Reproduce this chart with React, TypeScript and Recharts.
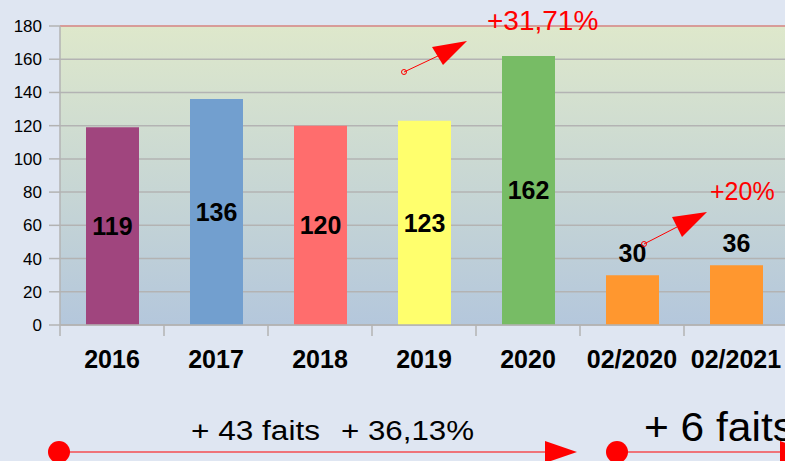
import { Bar, BarChart, CartesianGrid, Cell, LabelList, ReferenceLine, XAxis, YAxis } from "recharts"

const categories = ["2016", "2017", "2018", "2019", "2020", "02/2020", "02/2021"]
const faits = [119, 136, 120, 123, 162, 30, 36]
const barColors = ["#a0457e", "#729fcf", "#ff6d6d", "#ffff6d", "#77bc65", "#ff972f", "#ff972f"]
const yTicks = [0, 20, 40, 60, 80, 100, 120, 140, 160, 180]

const data = categories.map((name, i) => ({ name, value: faits[i] }))

const FONT = "'Liberation Sans', Arial, sans-serif"
const W = 800
const H = 461
const PLOT_LEFT = 60
const PLOT_RIGHT = 788
const BAND = (PLOT_RIGHT - PLOT_LEFT) / categories.length

function XTick(props: any) {
  const { x, y, payload } = props
  const left = x - BAND / 2
  return (
    <g>
      <line x1={left} x2={left} y1={y - 8} y2={y + 3} stroke="#b3b3b3" strokeWidth={1.5} />
      <text
        x={x}
        y={y + 26}
        textAnchor="middle"
        dominantBaseline="central"
        fontFamily={FONT}
        fontWeight="bold"
        fontSize={25}
        fill="#000"
      >
        {payload.value}
      </text>
    </g>
  )
}

function ValueLabel(props: any) {
  const { x, y, width, height, value } = props
  const inside = height > 80
  const cy = inside ? y + height / 2 : y - 22
  return (
    <text
      x={x + width / 2}
      y={cy}
      textAnchor="middle"
      dominantBaseline="central"
      fontFamily={FONT}
      fontWeight="bold"
      fontSize={25}
      fill="#000"
    >
      {value}
    </text>
  )
}

function Overlay() {
  const red = "#ff0000"
  return (
    <svg width={785} height={461} style={{ position: "absolute", left: 0, top: 0, pointerEvents: "none" }}>
      <defs>
        <linearGradient id="plotBg" x1="0" y1="0" x2="0" y2="1">
          <stop offset="0%" stopColor="#dee8cb" />
          <stop offset="100%" stopColor="#b4c7dc" />
        </linearGradient>
      </defs>
      {/* +31,71% arrow */}
      <line x1={404} y1={72} x2={440} y2={55} stroke={red} strokeWidth={1} />
      <circle cx={404} cy={72} r={2.5} fill="none" stroke={red} strokeWidth={1} />
      <polygon points="467,41 432,47 443,65" fill={red} />
      <text x={487} y={20} dominantBaseline="central" fontFamily={FONT} fontSize={28} fill={red}>
        +31,71%
      </text>
      {/* +20% arrow */}
      <line x1={644} y1={244} x2={677} y2={227} stroke={red} strokeWidth={1} />
      <circle cx={644} cy={244} r={2.5} fill="none" stroke={red} strokeWidth={1} />
      <polygon points="707,212 672,217 682,237" fill={red} />
      <text x={710} y={191} dominantBaseline="central" fontFamily={FONT} fontSize={25} fill={red}>
        +20%
      </text>
      {/* bottom arrows */}
      <line x1={59} y1={452} x2={548} y2={452} stroke={red} strokeWidth={1.2} />
      <circle cx={59} cy={452} r={11} fill={red} />
      <polygon points="577,452 545,441 545,463" fill={red} />
      <line x1={617} y1={452} x2={785} y2={452} stroke={red} strokeWidth={1.2} />
      <circle cx={617} cy={452} r={11} fill={red} />
      <polygon points="812,452 780,441 780,463" fill={red} />
      <text
        x={191}
        y={431}
        dominantBaseline="central"
        fontFamily={FONT}
        fontSize={27}
        textLength={129}
        lengthAdjust="spacingAndGlyphs"
        fill="#000"
      >
        + 43 faits
      </text>
      <text
        x={341}
        y={431}
        dominantBaseline="central"
        fontFamily={FONT}
        fontSize={27}
        textLength={133}
        lengthAdjust="spacingAndGlyphs"
        fill="#000"
      >
        + 36,13%
      </text>
      <text
        x={644}
        y={427}
        dominantBaseline="central"
        fontFamily={FONT}
        fontSize={40}
        textLength={150}
        lengthAdjust="spacingAndGlyphs"
        fill="#000"
      >
        + 6 faits
      </text>
    </svg>
  )
}

export default function App() {
  return (
    <div
      style={{
        position: "fixed",
        left: 0,
        top: 0,
        width: 785,
        height: 461,
        overflow: "hidden",
        background: "#dfe6f2",
      }}
    >
      <BarChart width={W} height={H} data={data} margin={{ top: 26, right: W - PLOT_RIGHT, left: 0, bottom: 0 }}>
        <CartesianGrid vertical={false} stroke="#b3b3b3" strokeWidth={1.5} fill="url(#plotBg)" fillOpacity={1} />
        <XAxis
          dataKey="name"
          height={136}
          axisLine={{ stroke: "#b3b3b3", strokeWidth: 1.5 }}
          tickLine={false}
          tick={<XTick />}
          interval={0}
        />
        <YAxis
          width={PLOT_LEFT}
          domain={[0, 180]}
          ticks={yTicks}
          interval={0}
          axisLine={{ stroke: "#b3b3b3", strokeWidth: 1.5 }}
          tickLine={{ stroke: "#b3b3b3", strokeWidth: 1.5 }}
          tickSize={11}
          tick={{ fill: "#000", fontSize: 17, fontFamily: FONT, dx: -5 }}
        />
        <ReferenceLine y={180} stroke="#e0908c" strokeWidth={1.5} />
        <Bar dataKey="value" barSize={53} isAnimationActive={false}>
          {data.map((d, i) => (
            <Cell key={d.name} fill={barColors[i]} />
          ))}
          <LabelList dataKey="value" content={<ValueLabel />} />
        </Bar>
      </BarChart>
      <Overlay />
    </div>
  )
}
